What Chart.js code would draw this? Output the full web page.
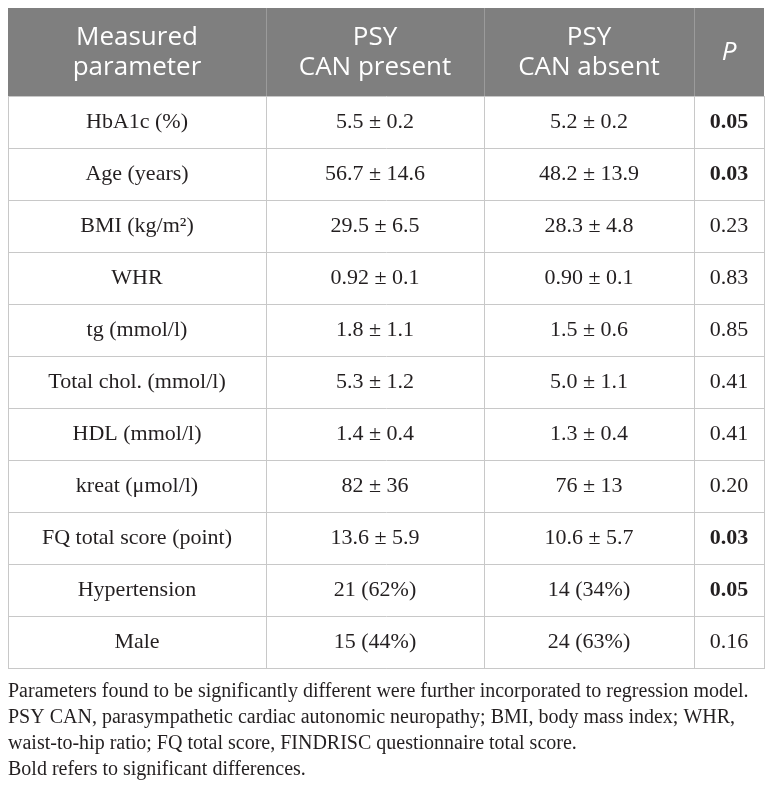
<!DOCTYPE html>
<html>
<head>
<meta charset="utf-8">
<script src="https://cdn.jsdelivr.net/npm/chart.js@4.4.1/dist/chart.umd.min.js"></script>
<style>
  html, body { margin: 0; padding: 0; background: #ffffff; }
  #wrap { width: 772px; height: 788px; }
</style>
</head>
<body>
<div id="wrap"><canvas id="c" width="772" height="788"></canvas></div>
<script>
// ---- Data ----
const headers = [["Measured", "parameter"], ["PSY", "CAN present"], ["PSY", "CAN absent"], ["P"]];
const parameters = ["HbA1c (%)", "Age (years)", "BMI (kg/m\u00B2)", "WHR", "tg (mmol/l)", "Total chol. (mmol/l)", "HDL (mmol/l)", "kreat (\u03BCmol/l)", "FQ total score (point)", "Hypertension", "Male"];
const canPresent = ["5.5 \u00B1 0.2", "56.7 \u00B1 14.6", "29.5 \u00B1 6.5", "0.92 \u00B1 0.1", "1.8 \u00B1 1.1", "5.3 \u00B1 1.2", "1.4 \u00B1 0.4", "82 \u00B1 36", "13.6 \u00B1 5.9", "21 (62%)", "15 (44%)"];
const canAbsent = ["5.2 \u00B1 0.2", "48.2 \u00B1 13.9", "28.3 \u00B1 4.8", "0.90 \u00B1 0.1", "1.5 \u00B1 0.6", "5.0 \u00B1 1.1", "1.3 \u00B1 0.4", "76 \u00B1 13", "10.6 \u00B1 5.7", "14 (34%)", "24 (63%)"];
const pValues = ["0.05", "0.03", "0.23", "0.83", "0.85", "0.41", "0.41", "0.20", "0.03", "0.05", "0.16"];
const significant = [true, true, false, false, false, false, false, false, true, true, false];
const notes = [
  "Parameters found to be significantly different were further incorporated to regression model.",
  "PSY CAN, parasympathetic cardiac autonomic neuropathy; BMI, body mass index; WHR,",
  "waist-to-hip ratio; FQ total score, FINDRISC questionnaire total score.",
  "Bold refers to significant differences."
];

// ---- Layout (not data) ----
const columnEdges = [0, 258, 476, 686, 756];
const headerHeight = 88;
const gridColor = '#c8c8c8';
const textColor = '#231f20';
const serif = '"Liberation Serif", "DejaVu Serif", serif';
const sans = '"Open Sans", "Noto Sans", sans-serif';

const tablePlugin = {
  id: 'tablePlugin',
  beforeDraw(chart) {
    const { ctx, chartArea, scales } = chart;
    const x = scales.x;
    ctx.save();
    ctx.fillStyle = '#ffffff';
    ctx.fillRect(0, 0, chart.width, chart.height);
    const left = x.getPixelForValue(columnEdges[0]);
    const right = x.getPixelForValue(columnEdges[columnEdges.length - 1]);
    ctx.fillStyle = '#7f7f7f';
    ctx.fillRect(left, chartArea.top - headerHeight, right - left, headerHeight);
    ctx.restore();
  },
  afterDraw(chart) {
    const { ctx, chartArea, scales } = chart;
    const x = scales.x, y = scales.y;
    ctx.save();
    // header separators
    ctx.strokeStyle = '#9b9b9b';
    ctx.lineWidth = 1;
    for (let i = 1; i < columnEdges.length - 1; i++) {
      const px = Math.round(x.getPixelForValue(columnEdges[i])) + 0.5;
      ctx.beginPath();
      ctx.moveTo(px, chartArea.top - headerHeight);
      ctx.lineTo(px, chartArea.top);
      ctx.stroke();
    }
    const centers = [];
    for (let i = 0; i < columnEdges.length - 1; i++) {
      centers.push(x.getPixelForValue((columnEdges[i] + columnEdges[i + 1]) / 2));
    }
    // header text
    ctx.fillStyle = '#ffffff';
    ctx.textAlign = 'center';
    ctx.textBaseline = 'middle';
    const hMid = chartArea.top - headerHeight / 2;
    headers.forEach((lines, c) => {
      ctx.font = (c === 3 ? 'italic ' : '') + '26px ' + sans;
      const lh = 30;
      lines.forEach((t, k) => {
        const yy = hMid + 1 + (k - (lines.length - 1) / 2) * lh;
        ctx.fillText(t, centers[c], yy);
      });
    });
    // body cells
    ctx.fillStyle = textColor;
    parameters.forEach((p, r) => {
      const yy = y.getPixelForValue(r + 0.5);
      ctx.font = '22px ' + serif;
      ctx.fillText(p, centers[0], yy);
      ctx.fillText(canPresent[r], centers[1], yy);
      ctx.fillText(canAbsent[r], centers[2], yy);
      ctx.font = (significant[r] ? 'bold ' : '') + '22px ' + serif;
      ctx.fillText(pValues[r], centers[3], yy);
    });
    // notes
    ctx.textAlign = 'left';
    ctx.font = '20px ' + serif;
    const nLeft = x.getPixelForValue(columnEdges[0]);
    notes.forEach((t, k) => {
      ctx.fillText(t, nLeft, chartArea.bottom + 24 + k * 25.8);
    });
    ctx.restore();
  }
};

const rowTicks = parameters.map((_, i) => i).concat([parameters.length]);

new Chart(document.getElementById('c'), {
  type: 'scatter',
  data: { datasets: [{ data: [], showLine: false }] },
  options: {
    responsive: false,
    animation: false,
    devicePixelRatio: 1,
    layout: { padding: { left: 8, right: 8, top: 8 + headerHeight, bottom: 120 } },
    plugins: { legend: { display: false }, tooltip: { enabled: false } },
    scales: {
      x: {
        type: 'linear',
        min: columnEdges[0],
        max: columnEdges[columnEdges.length - 1],
        afterBuildTicks(scale) { scale.ticks = columnEdges.map(v => ({ value: v })); },
        ticks: { display: false },
        grid: { color: gridColor, lineWidth: 1, drawTicks: false },
        border: { display: true, color: gridColor, width: 1 }
      },
      y: {
        type: 'linear',
        reverse: true,
        min: 0,
        max: parameters.length,
        afterBuildTicks(scale) { scale.ticks = rowTicks.map(v => ({ value: v })); },
        ticks: { display: false },
        grid: { color: gridColor, lineWidth: 1, drawTicks: false },
        border: { display: true, color: gridColor, width: 1 }
      }
    }
  },
  plugins: [tablePlugin]
});
</script>
</body>
</html>
